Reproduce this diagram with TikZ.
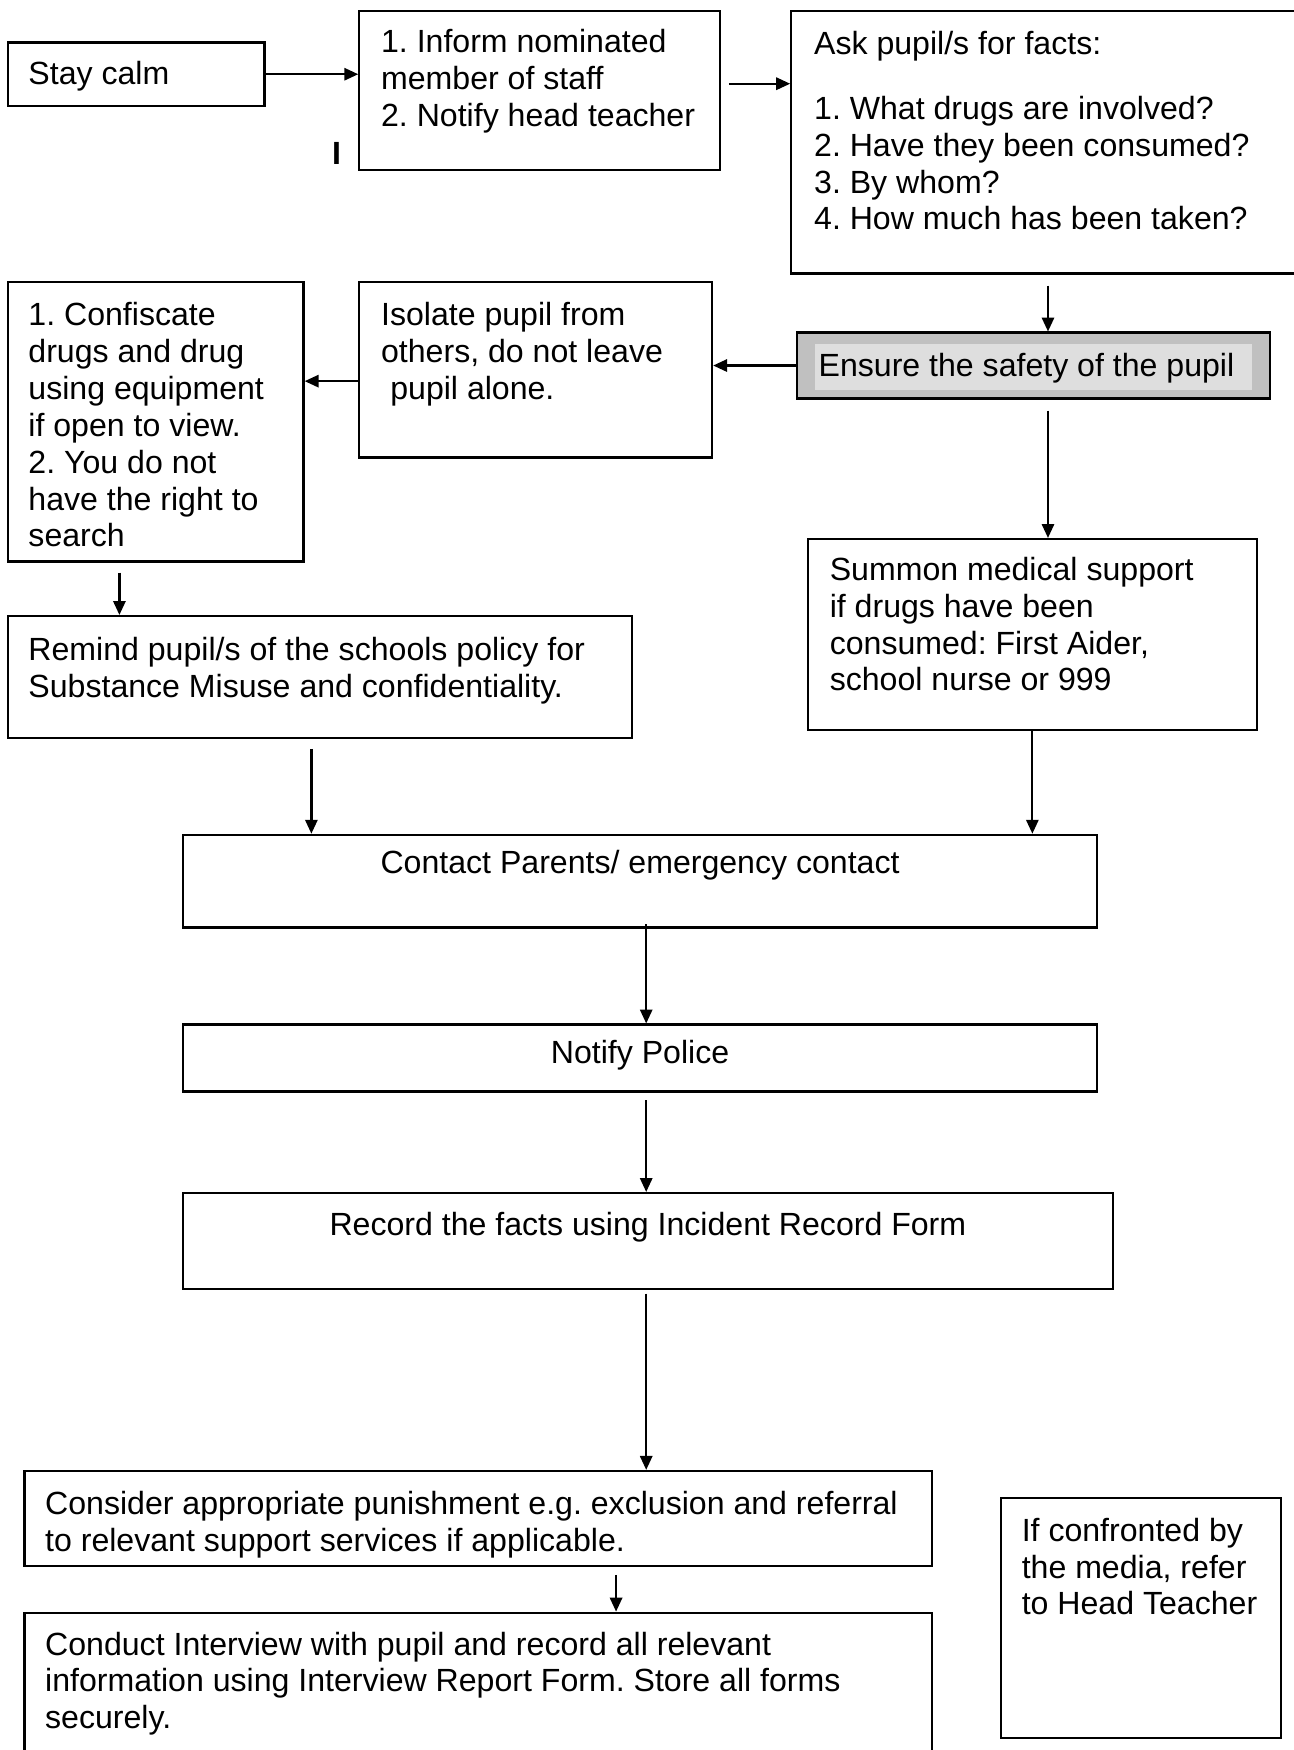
\documentclass[tikz,border=0pt]{standalone}
\usepackage{fontspec}
\setmainfont{Liberation Sans}
\usetikzlibrary{arrows.meta,fit,calc}
\definecolor{outergray}{RGB}{192,192,192}
\definecolor{innergray}{RGB}{222,222,222}
\frenchspacing
\begin{document}
\begin{tikzpicture}[x=0.4pt,y=-0.4pt,
  box/.style={draw,line width=0.8pt,inner sep=0pt},
  txt/.style={anchor=base west,inner sep=0pt,font=\fontsize{11.5}{13.2}\selectfont},
  ctxt/.style={anchor=base,inner sep=0pt,font=\fontsize{11.5}{13.2}\selectfont},
  arr/.style={line width=0.8pt,-{Triangle[length=5pt,width=4.4pt]}}]
\useasboundingbox (0,0) rectangle (1159,1568);
\fill[white] (0,0) rectangle (1159,1568);

% boxes
\node[box,fit={(7,38) (237,95)}] (stay) {};
\node[box,fit={(322,10) (645,152)}] (inform) {};
\node[box,fit={(709,10) (1175,245)}] (ask) {};
\node[box,fill=outergray,fit={(714,298) (1138,357)}] (ensure) {};
\fill[innergray] (730,308) rectangle (1122,349);
\node[box,fit={(322,253) (638,410)}] (isolate) {};
\node[box,fit={(7,253) (272,503)}] (conf) {};
\node[box,fit={(7,552) (566,661)}] (remind) {};
\node[box,fit={(724,483) (1126,654)}] (summon) {};
\node[box,fit={(164,748) (983,831)}] (contact) {};
\node[box,fit={(164,918) (983,978)}] (notify) {};
\node[box,fit={(164,1069) (997,1155)}] (record) {};
\node[box,fit={(22,1318) (835,1403)}] (consider) {};
\node[box,fit={(22,1445) (835,1600)}] (conduct) {};
\node[box,fit={(897,1342) (1148,1557)}] (media) {};

% texts
\node[txt] (tstay) at (25,76) {Stay calm};
\node[txt] (tinform) at (341,47) {\parbox[t]{300pt}{\raggedright 1. Inform nominated\\member of staff\\2. Notify head teacher}};
\node[txt,font=\fontsize{11.5}{13.2}\selectfont\bfseries] (tI) at (297,147) {I};
\node[txt] (task) at (729,49) {\parbox[t]{300pt}{\raggedright Ask pupil/s for facts:\\[10pt]1. What drugs are involved?\\2. Have they been consumed?\\3. By whom?\\4. How much has been taken?}};
\node[txt] (tensure) at (733,337) {Ensure the safety of the pupil};
\node[txt] (tisolate) at (341,292) {\parbox[t]{300pt}{\raggedright Isolate pupil from\\others, do not leave\\\hspace*{3.3pt}pupil alone.}};
\node[txt] (tconf) at (25,292) {\parbox[t]{300pt}{\raggedright 1. Confiscate\\drugs and drug\\using equipment\\if open to view.\\2. You do not\\have the right to\\search}};
\node[txt] (tremind) at (25,592) {\parbox[t]{300pt}{\raggedright Remind pupil/s of the schools policy for\\Substance Misuse and confidentiality.}};
\node[txt] (tsummon) at (743,520) {\parbox[t]{300pt}{\raggedright Summon medical support\\if drugs have been\\consumed: First Aider,\\school nurse or 999}};
\node[ctxt] (tcontact) at (573.5,783) {Contact Parents/ emergency contact};
\node[ctxt] (tnotify) at (573.5,953) {Notify Police};
\node[ctxt] (trecord) at (580.5,1107) {Record the facts using Incident Record Form};
\node[txt] (tconsider) at (40,1357) {\parbox[t]{400pt}{\raggedright Consider appropriate punishment e.g. exclusion and referral\\to relevant support services if applicable.}};
\node[txt] (tconduct) at (40,1483) {\parbox[t]{400pt}{\raggedright Conduct Interview with pupil and record all relevant\\information using Interview Report Form. Store all forms\\securely.}};
\node[txt] (tmedia) at (915,1381) {\parbox[t]{300pt}{\raggedright If confronted by\\the media, refer\\to Head Teacher}};

% connectors
\draw[arr] (stay.east) -- (stay.east -| inform.west);
\coordinate (c1) at ($(inform.east)+(7,-6)$);
\draw[arr] (c1) -- (c1 -| ask.west);
\coordinate (c2) at ($(ask.south west)+(231,10)$);
\draw[arr] (c2) -- (c2 |- ensure.north);
\draw[arr] (ensure.west) -- (ensure.west -| isolate.east);
\coordinate (c3) at ($(isolate.west)+(0,10)$);
\draw[arr] (c3) -- (c3 -| conf.east);
\coordinate (c4) at ($(conf.south west)+(101,9)$);
\draw[arr] (c4) -- (c4 |- remind.north);
\coordinate (c5) at ($(ensure.south west)+(226,10)$);
\draw[arr] (c5) -- (c5 |- summon.north);
\coordinate (c6) at ($(remind.south west)+(273,9)$);
\draw[arr] (c6) -- (c6 |- contact.north);
\coordinate (c7) at ($(summon.south west)+(202,0)$);
\draw[arr] (c7) -- (c7 |- contact.north);
\coordinate (c8) at ($(contact.south west)+(416,-4)$);
\draw[arr] (c8) -- (c8 |- notify.north);
\coordinate (c9) at ($(notify.south west)+(416,7)$);
\draw[arr] (c9) -- (c9 |- record.north);
\coordinate (c10) at ($(record.south west)+(416,3)$);
\draw[arr] (c10) -- (c10 |- consider.north);
\coordinate (c11) at ($(consider.south west)+(531,7)$);
\draw[arr] (c11) -- (c11 |- conduct.north);
\end{tikzpicture}
\end{document}
